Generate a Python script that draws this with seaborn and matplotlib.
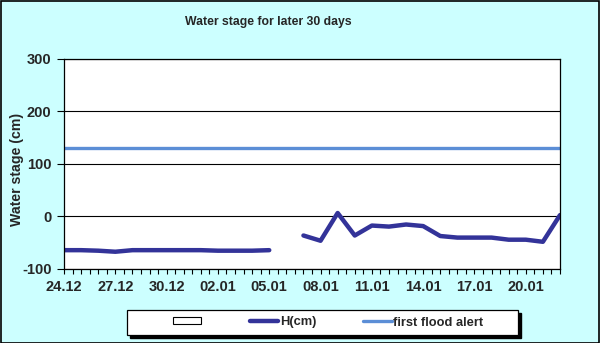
import numpy as np
import pandas as pd
import matplotlib
matplotlib.use("Agg")
import matplotlib.pyplot as plt
from matplotlib.lines import Line2D
from matplotlib.patches import Rectangle
import seaborn as sns

# ---- data ----
days = list(range(30))  # 24.12 ... 22.01
h_cm = [-65, -65, -66, -68, -65, -65, -65, -65, -65, -66, -66, -66, -65,
        np.nan,
        -37, -47, 6, -37, -18, -20, -16, -19, -38, -41, -41, -41, -45, -45, -49, 2]
flood_alert = [130] * 30
tick_pos = [0, 3, 6, 9, 12, 15, 18, 21, 24, 27]
tick_labels = ["24.12", "27.12", "30.12", "02.01", "05.01",
               "08.01", "11.01", "14.01", "17.01", "20.01"]
y_ticks = [-100, 0, 100, 200, 300]

sns.set_theme(style="white")
plt.rcParams["font.family"] = ["Liberation Sans", "DejaVu Sans"]
plt.rcParams["font.weight"] = "bold"

W, H = 600, 343
fig = plt.figure(figsize=(6, 3.43), dpi=100)
bg = "#CCFFFF"
fig.patch.set_facecolor(bg)
# outer frame
fig.patches.append(Rectangle((0.5 / W, 0.5 / H), 1 - 1.5 / W, 1 - 1.5 / H,
                             transform=fig.transFigure, fill=False,
                             edgecolor="black", linewidth=1.2))

left, right, top, bottom = 64, 560, 59, 268.5
ax = fig.add_axes([left / W, (H - bottom) / H, (right - left) / W, (bottom - top) / H])
ax.set_facecolor("white")

df = pd.DataFrame({"day": days, "H": h_cm, "alert": flood_alert})
dark = "#333399"
light = "#5B8ED6"
valid = df["H"].notna()
seg = (~valid).cumsum()
for k, g in df[valid].groupby(seg[valid]):
    sns.lineplot(data=g, x="day", y="H", ax=ax, color=dark, linewidth=3.2,
                 legend=False)
sns.lineplot(data=df, x="day", y="alert", ax=ax, color=light, linewidth=2.4,
             legend=False)

ax.set_xlim(0, 29)
ax.set_ylim(-100, 300)
ax.set_yticks(y_ticks)
ax.set_yticklabels([str(v) for v in y_ticks], fontsize=10.5, fontweight="bold")
ax.set_xticks(tick_pos)
ax.set_xticklabels(tick_labels, fontsize=10.5, fontweight="bold")
ax.set_xticks(np.arange(0, 29.01, 0.5), minor=True)
ax.tick_params(axis="x", which="both", direction="out", length=3.5, width=0.8,
               color="black", pad=5, bottom=True)
ax.tick_params(axis="y", which="major", direction="out", length=5, width=0.8,
               color="black", pad=4, left=True)
ax.grid(axis="y", color="black", linewidth=0.8)
ax.set_axisbelow(True)
for s in ax.spines.values():
    s.set_color("black")
    s.set_linewidth(0.9)
ax.set_xlabel("")
ax.set_ylabel("")

fig.text(17 / W, 1 - 169.5 / H, "Water stage (cm)", rotation=90, ha="center",
         va="center", fontsize=10.2, fontweight="bold")
fig.text(268 / W, 1 - 22 / H, "Water stage for later 30 days", ha="center",
         va="center", fontsize=8.8, fontweight="bold")

# legend box with shadow
x0, x1, y0, y1 = 127, 518, 310, 335
sh = 3
fig.patches.append(Rectangle(((x0 + sh) / W, (H - y1 - sh) / H), (x1 - x0) / W,
                             (y1 - y0) / H, transform=fig.transFigure,
                             facecolor="black", edgecolor="black", zorder=1))
fig.patches.append(Rectangle((x0 / W, (H - y1) / H), (x1 - x0) / W,
                             (y1 - y0) / H, transform=fig.transFigure,
                             facecolor="white", edgecolor="black",
                             linewidth=0.9, zorder=2))

handles = [Rectangle((0, 0), 1, 1, facecolor="white", edgecolor="black", linewidth=0.8),
           Line2D([], [], color=dark, linewidth=3.2),
           Line2D([], [], color=light, linewidth=2.4)]
labels = ["", "H(cm)", "first flood alert"]
leg = fig.legend(handles, labels, loc="center left", ncol=3,
                 bbox_to_anchor=(173 / W, 1 - (y0 + y1) / 2 / H),
                 frameon=False, fontsize=9.3, handlelength=2.2,
                 handleheight=0.45, handletextpad=0.15,
                 columnspacing=3.6, borderpad=0, borderaxespad=0)
leg.set_zorder(5)
for t in leg.get_texts():
    t.set_fontweight("bold")

fig.savefig("out.png", dpi=100, facecolor=bg)
